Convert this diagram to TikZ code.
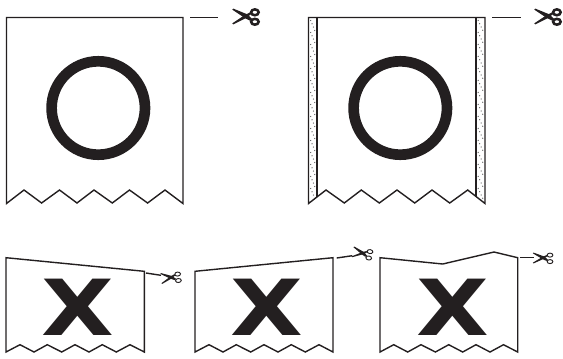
\documentclass[tikz,border=0pt]{standalone}
\usepackage{fontspec}
\newfontfamily\markfont{DejaVu Sans Bold}
\usepackage{xcolor}
\definecolor{inkblack}{HTML}{231F20}
\tikzset{
  scissorspic/.pic={
    \draw[inkblack, line width=\pgfkeysvalueof{/tikz/handlewidth}, fill=white] (7.5,-4) ellipse (3.6 and 2.8);
    \draw[inkblack, line width=\pgfkeysvalueof{/tikz/handlewidth}, fill=white] (7.5,5) ellipse (3.6 and 2.8);
    \fill[inkblack] (-14,-6.5) -- (-13,-7.5) -- (0.5,-2) -- (5,2.5) -- (3,4) -- (-2,1.5) -- cycle;
    \fill[inkblack] (-14,6.5) -- (-13,7.5) -- (-2,2) -- (3,-1.5) -- (5,-3) -- (3,-4) -- (-2,-1.5) -- cycle;
  },
  handlewidth/.initial=1.9pt
}
\begin{document}
\begin{tikzpicture}[
  x=0.75pt, y=-0.75pt,
  ticket/.style={draw=inkblack, line width=1.05pt, line join=miter},
  ring/.style={draw=inkblack, line width=8pt},
  cutline/.style={draw=inkblack, line width=1.05pt},
  strip/.style={draw=black!65, line width=0.7pt, dotted},
  crossmark/.style={font=\markfont\fontsize{58}{58}\selectfont, text=inkblack, inner sep=0pt, xscale=1.22, transform shape},
  smallcut/.style={xscale=0.8, yscale=0.72, handlewidth=0.7pt}
]
\useasboundingbox (0,0) rectangle (563,358);
% top row
\draw[ticket] (6.5,203.5) -- (6.5,17.5) -- (183,17.5) -- (183,203.5)
  -- (165,190) -- (147.6,203) -- (129.5,190) -- (112.3,203) -- (94,190)
  -- (77,203) -- (59.5,190) -- (41.6,203) -- (24,190) -- cycle;
\draw[ring] (98.3,108) circle (46.7);
\draw[cutline] (190,17.5) -- (218,17.5);
\pic[scale=1.05] at (247,16.5) {scissorspic};
\foreach \y in {20,32,...,188}{
  \draw[strip] (310.5,\y) -- (315,\y+11);
  \draw[strip] (478,\y) -- (483,\y+11);
}
\draw[ticket] (308.5,203.5) -- (308.5,17.5) -- (485,17.5) -- (485,203.5)
  -- (467.7,190) -- (449.7,203) -- (432,190) -- (414.7,203) -- (397,190)
  -- (379.3,203) -- (361.3,190) -- (344.3,203) -- (326,190) -- cycle;
\draw[ticket] (317,17.5) -- (317,196.5);
\draw[ticket] (476,17.5) -- (476,196.5);
\draw[ring] (400.3,108) circle (46.7);
\draw[cutline] (492,17.5) -- (520.5,17.5);
\pic[scale=1.05] at (549,16.5) {scissorspic};
% bottom row
\draw[ticket] (6,352) -- (6,257.7) -- (144.3,271.3) -- (144.3,352)
  -- (130,344.7) -- (116.3,352) -- (102.3,344.7) -- (89,352) -- (75,344.7)
  -- (61.7,352) -- (47.3,344.7) -- (34,352) -- (20,344.7) -- cycle;
\node[crossmark] (xa) at (78,307.5) {X};
\draw[cutline] (146,273) -- (161,275.3);
\pic[smallcut, rotate=6] at (172,277.5) {scissorspic};
\draw[ticket] (195,352) -- (195,271.3) -- (333,257.7) -- (333,352)
  -- (319,344.7) -- (305.3,352) -- (291.3,344.7) -- (278,352) -- (264,344.7)
  -- (250.7,352) -- (236.3,344.7) -- (223,352) -- (209,344.7) -- cycle;
\node[crossmark] (xb) at (267,307.5) {X};
\draw[cutline] (336.7,258) -- (352.3,255.7);
\pic[smallcut, rotate=-10] at (363.5,253.5) {scissorspic};
\draw[ticket] (380,352) -- (380,257.7) -- (442.7,264) -- (494,252) -- (517.7,257.7) -- (517.7,352)
  -- (503.5,344.7) -- (490,352) -- (476,344.7) -- (462.7,352) -- (448.7,344.7)
  -- (435.4,352) -- (421,344.7) -- (407.7,352) -- (393.7,344.7) -- cycle;
\node[crossmark] (xc) at (453,307.5) {X};
\draw[cutline] (520,257.7) -- (534,257.7);
\pic[smallcut] at (544,258) {scissorspic};
\end{tikzpicture}
\end{document}
